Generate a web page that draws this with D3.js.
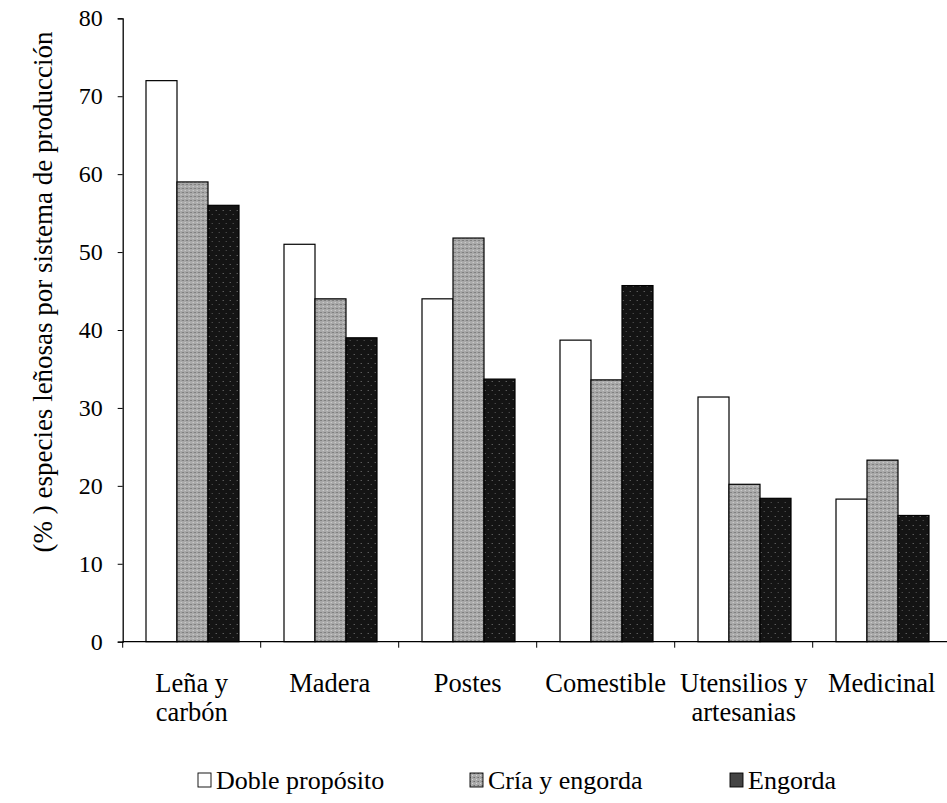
<!DOCTYPE html>
<html><head><meta charset="utf-8">
<script src="https://cdn.jsdelivr.net/npm/d3@7"></script>
<style>
html,body{margin:0;padding:0;background:#fff;}
svg{display:block;font-family:"Liberation Serif","Times New Roman",serif;}
</style></head>
<body>
<svg id="chart" width="947" height="803"></svg>
<script>
const categories = [["Leña y","carbón"],["Madera"],["Postes"],["Comestible"],["Utensilios y","artesanias"],["Medicinal"]];
const seriesNames = ["Doble propósito","Cría y engorda","Engorda"];
const doblePropósito = [72, 51, 44, 38.7, 31.4, 18.3];
const criaYEngorda = [59, 44, 51.8, 33.6, 20.2, 23.3];
const engorda = [56, 39, 33.7, 45.7, 18.4, 16.2];
const yTicks = [0,10,20,30,40,50,60,70,80];

const seriesValues = [doblePropósito, criaYEngorda, engorda];
const fills = ["#ffffff", "url(#grayPat)", "url(#blackPat)"];

const svg = d3.select("#chart");
const defs = svg.append("defs");
const gp = defs.append("pattern").attr("id","grayPat").attr("patternUnits","userSpaceOnUse").attr("width",4).attr("height",4);
gp.append("rect").attr("width",4).attr("height",4).attr("fill","#a9a9a9");
gp.append("rect").attr("x",0).attr("y",0).attr("width",1).attr("height",1).attr("fill","#6e6e6e");
gp.append("rect").attr("x",2).attr("y",2).attr("width",1).attr("height",1).attr("fill","#d6d6d6");
gp.append("rect").attr("x",3).attr("y",0).attr("width",1).attr("height",1).attr("fill","#8a8a8a");
const bp = defs.append("pattern").attr("id","blackPat").attr("patternUnits","userSpaceOnUse").attr("width",7).attr("height",9);
bp.append("rect").attr("width",7).attr("height",9).attr("fill","#141414");
bp.append("rect").attr("x",2).attr("y",3).attr("width",1).attr("height",1).attr("fill","#7a7a7a");
bp.append("rect").attr("x",5).attr("y",7).attr("width",1).attr("height",1).attr("fill","#5a5a5a");

const x0 = 122.7, x1 = 122.7 + 6*138, yTop = 18.3, yBot = 641.7;
const x = d3.scaleBand().domain(d3.range(categories.length)).range([x0, x1]).paddingInner(0).paddingOuter(0);
const xs = d3.scaleBand().domain(d3.range(seriesNames.length)).range([23.3, 23.3 + 93]).padding(0);
const y = d3.scaleLinear().domain([0, 80]).range([yBot, yTop]);

const groups = svg.append("g").selectAll("g").data(categories).join("g")
  .attr("transform", (d,i) => `translate(${x(i)},0)`);
groups.selectAll("rect").data((d,i) => seriesValues.map((s,k) => ({k, v: s[i]}))).join("rect")
  .attr("x", d => xs(d.k)).attr("width", xs.bandwidth())
  .attr("y", d => y(d.v)).attr("height", d => y(0) - y(d.v))
  .attr("fill", d => fills[d.k]).attr("stroke", "#000").attr("stroke-width", 1.2);

const yAxis = d3.axisLeft(y).tickValues(yTicks).tickSize(5).tickPadding(15).tickFormat(d3.format("d"));
const ya = svg.append("g").attr("transform", `translate(${x0},0)`).call(yAxis);
ya.select(".domain").attr("stroke","#000").attr("stroke-width",1.3);
ya.selectAll(".tick line").attr("stroke","#000");
ya.selectAll(".tick text").attr("font-size", 24).attr("font-family","Liberation Serif").attr("fill","#000");

const xa = svg.append("g").attr("transform", `translate(0,${yBot})`);
xa.append("line").attr("x1", x0).attr("x2", 947).attr("y1",0).attr("y2",0).attr("stroke","#000").attr("stroke-width",1.3);
xa.selectAll("line.tk").data(d3.range(categories.length + 1)).join("line").attr("class","tk")
  .attr("x1", i => x0 + i*x.step()).attr("x2", i => x0 + i*x.step())
  .attr("y1", 0).attr("y2", 6).attr("stroke","#000");

const lab = svg.append("g").selectAll("text").data(categories).join("text")
  .attr("text-anchor","middle").attr("font-size",26.5).attr("fill","#000")
  .attr("transform", (d,i) => `translate(${x(i) + x.bandwidth()/2},692)`);
lab.selectAll("tspan").data(d => d).join("tspan")
  .attr("x",0).attr("dy",(d,j) => j === 0 ? 0 : 29).text(d => d);

svg.append("text").attr("transform", `translate(52,292) rotate(-90)`)
  .attr("text-anchor","middle").attr("font-size",27).attr("fill","#000")
  .text("(% ) especies leñosas por sistema de producción");

const legX = [198, 470, 730];
const lg = svg.append("g").selectAll("g").data(seriesNames).join("g")
  .attr("transform", (d,i) => `translate(${legX[i]},789)`);
lg.append("rect").attr("x",0).attr("y",-16).attr("width",13).attr("height",14)
  .attr("fill", (d,i) => i === 2 ? "#444" : fills[i]).attr("stroke", "#000").attr("stroke-width",0.9);
lg.append("text").attr("x",18).attr("y",0).attr("font-size",26).attr("fill","#000").text(d => d);
</script>
</body></html>
